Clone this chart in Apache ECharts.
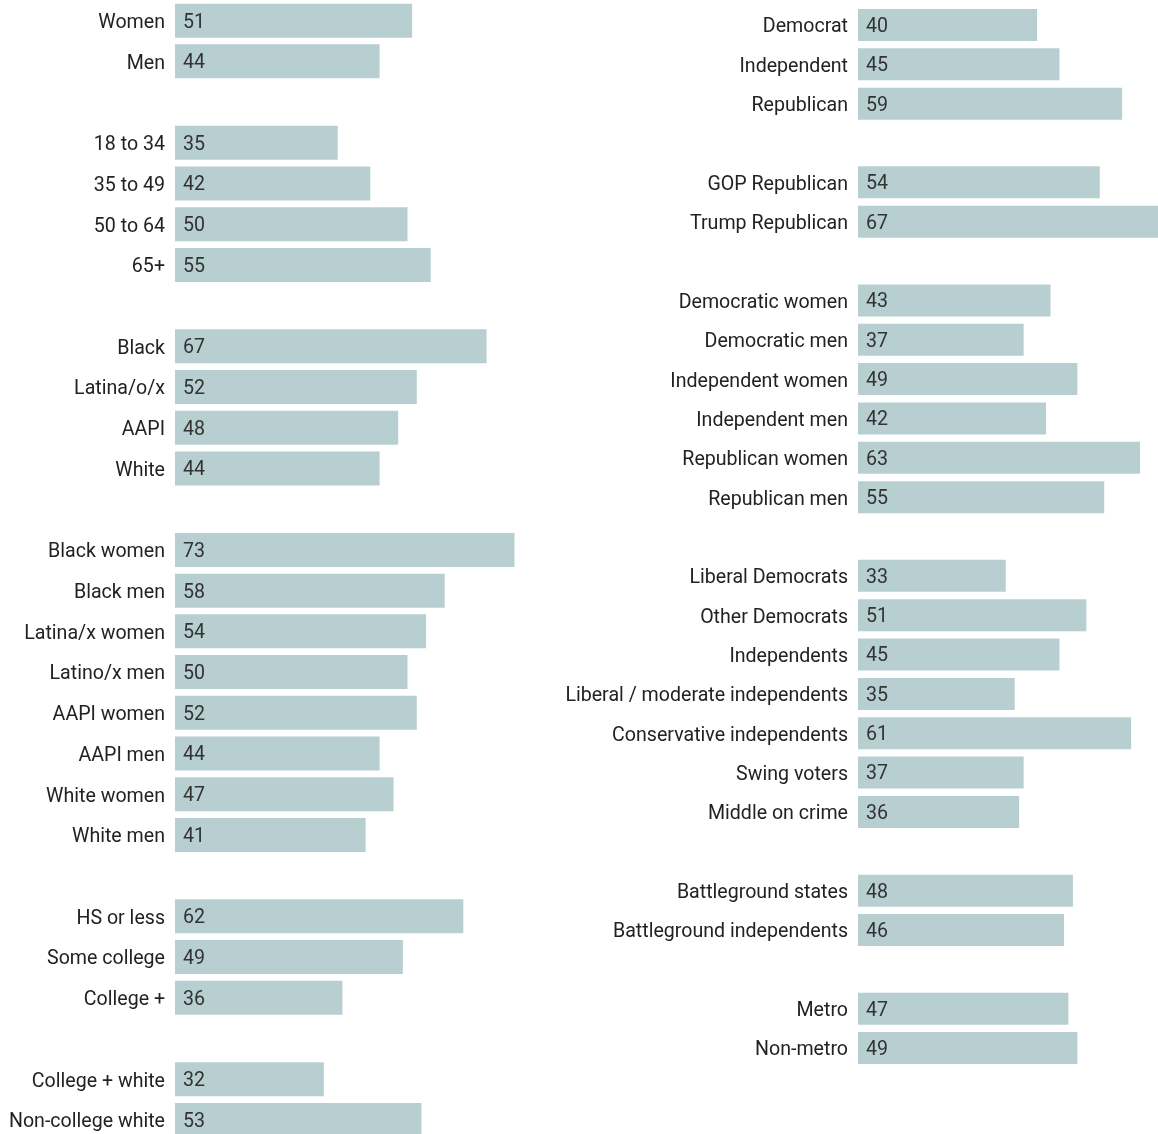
<!DOCTYPE html>
<html>
<head>
<meta charset="utf-8">
<script src="https://cdn.jsdelivr.net/npm/echarts@6/dist/echarts.min.js"></script>
<style>
  html, body { margin: 0; padding: 0; background: #fff; }
  #chart { width: 1158px; height: 1134px; }
</style>
</head>
<body>
<div id="chart"></div>
<script>
// blank strings are the gaps between groups
var leftLabels = ['Women', 'Men', '',
  '18 to 34', '35 to 49', '50 to 64', '65+', '',
  'Black', 'Latina/o/x', 'AAPI', 'White', '',
  'Black women', 'Black men', 'Latina/x women', 'Latino/x men', 'AAPI women', 'AAPI men', 'White women', 'White men', '',
  'HS or less', 'Some college', 'College +', '',
  'College + white', 'Non-college white'];
var leftValues = [51, 44, null,
  35, 42, 50, 55, null,
  67, 52, 48, 44, null,
  73, 58, 54, 50, 52, 44, 47, 41, null,
  62, 49, 36, null,
  32, 53];

var rightLabels = ['Democrat', 'Independent', 'Republican', '',
  'GOP Republican', 'Trump Republican', '',
  'Democratic women', 'Democratic men', 'Independent women', 'Independent men', 'Republican women', 'Republican men', '',
  'Liberal Democrats', 'Other Democrats', 'Independents', 'Liberal / moderate independents', 'Conservative independents', 'Swing voters', 'Middle on crime', '',
  'Battleground states', 'Battleground independents', '',
  'Metro', 'Non-metro'];
var rightValues = [40, 45, 59, null,
  54, 67, null,
  43, 37, 49, 42, 63, 55, null,
  33, 51, 45, 35, 61, 37, 36, null,
  48, 46, null,
  47, 49];

var barColor = '#b7cfd1';
var font = 'Roboto, "Noto Sans", sans-serif';
var fontSize = 19.6;

function catAxis(idx, labels) {
  return {
    type: 'category',
    gridIndex: idx,
    data: labels,
    inverse: true,
    axisLine: { show: false },
    axisTick: { show: false },
    axisLabel: {
      margin: 10,
      formatter: function (v) { return v ? '{t|' + v + '}' : ''; },
      rich: {
        t: { fontSize: fontSize, color: '#222', fontFamily: font, padding: [5, 0, 0, 0] }
      }
    }
  };
}

function barSeries(idx, values, width) {
  return {
    type: 'bar',
    xAxisIndex: idx,
    yAxisIndex: idx,
    data: values,
    barWidth: width,
    itemStyle: { color: barColor },
    label: {
      show: true,
      position: 'insideLeft',
      distance: 8,
      offset: [0, 2],
      formatter: '{c}',
      fontSize: fontSize,
      color: '#333',
      fontFamily: font
    }
  };
}

var chart = echarts.init(document.getElementById('chart'));
chart.setOption({
  animation: false,
  backgroundColor: '#fff',
  grid: [
    { left: 175, top: 0.3, width: 372, height: 1140, outerBoundsMode: 'none' },
    { left: 858, top: 5.3, width: 313.4, height: 1062.4, outerBoundsMode: 'none' }
  ],
  xAxis: [
    { type: 'value', gridIndex: 0, min: 0, max: 80, show: false },
    { type: 'value', gridIndex: 1, min: 0, max: 70, show: false }
  ],
  yAxis: [catAxis(0, leftLabels), catAxis(1, rightLabels)],
  series: [barSeries(0, leftValues, 34), barSeries(1, rightValues, 32)]
});
</script>
</body>
</html>
